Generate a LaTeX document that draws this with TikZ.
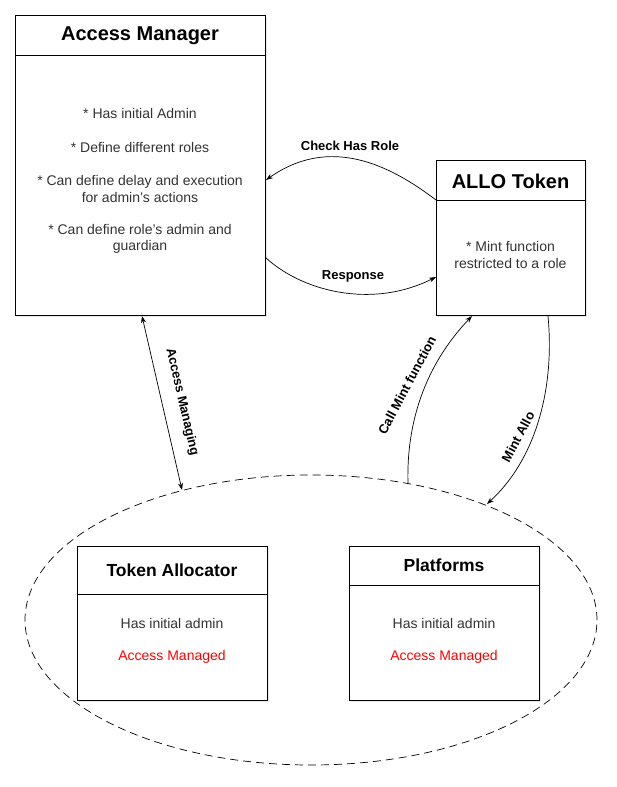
\documentclass[tikz,border=0pt]{standalone}
\usepackage{fontspec}
\setmainfont{Liberation Sans}
\usetikzlibrary{arrows.meta,shapes.geometric,shadows}
\definecolor{bodytxt}{HTML}{333333}
\begin{document}
\begin{tikzpicture}[x=1pt,y=-1pt,
  boxstyle/.style={draw,line width=0.9pt,fill=white,inner sep=0pt,anchor=north west,
     drop shadow={opacity=0.18,shadow xshift=2pt,shadow yshift=-2pt}},
  titletxt/.style={font=\fontsize{20}{24}\selectfont\bfseries},
  subtitletxt/.style={font=\fontsize{17.5}{21}\selectfont\bfseries},
  bodystyle/.style={font=\fontsize{14}{16.5}\selectfont,text=bodytxt,align=center},
  lbl/.style={font=\fontsize{13}{15}\selectfont\bfseries,fill=white,inner sep=1pt},
  conn/.style={line width=0.7pt,-{Stealth[length=7pt,width=5pt]}},
  dconn/.style={line width=0.7pt,{Stealth[length=7pt,width=5pt]}-{Stealth[length=7pt,width=5pt]}}]
\useasboundingbox (0,0) rectangle (616,787);
% ellipse
\node[draw,dash pattern=on 8pt off 5pt,line width=0.7pt,ellipse,minimum width=572pt,minimum height=290pt,inner sep=0pt] (ell) at (311,620) {};
% Access Manager
\node[boxstyle,minimum width=250pt,minimum height=300pt] (am) at (15,15) {};
\draw[line width=0.9pt] (15,55) -- (265,55);
\node[titletxt] (amt) at (140,36) {Access Manager};
\node[bodystyle] (amb) at (140,113) {* Has initial Admin};
\node[bodystyle] (amc) at (140,147) {* Define different roles};
\node[bodystyle] (amd) at (140,189) {* Can define delay and execution\\for admin's actions};
\node[bodystyle] (ame) at (140,239) {* Can define role's admin and\\guardian};
% ALLO Token
\node[boxstyle,minimum width=149pt,minimum height=155pt] (allo) at (436,160) {};
\draw[line width=0.9pt] (436,200) -- (585,200);
\node[titletxt] (allot) at (510.5,181) {ALLO Token};
\node[bodystyle] (allob) at (510.5,255) {* Mint function\\restricted to a role};
% Token Allocator
\node[boxstyle,minimum width=190pt,minimum height=154pt] (ta) at (77,546) {};
\draw[line width=0.9pt] (77,594) -- (267,594);
\node[subtitletxt] (tat) at (172,570) {Token Allocator};
\node[bodystyle] (tab) at (172,623) {Has initial admin};
\node[bodystyle,text=red] (tac) at (172,657) {Access Managed};
% Platforms
\node[boxstyle,minimum width=190pt,minimum height=154pt] (pl) at (349,546) {};
\draw[line width=0.9pt] (349,585) -- (539,585);
\node[subtitletxt] (plt) at (444,565) {Platforms};
\node[bodystyle] (plb) at (444,623) {Has initial admin};
\node[bodystyle,text=red] (plc) at (444,657) {Access Managed};
% connector endpoints
\coordinate (chkS) at (436,200);
\coordinate (chkE) at (266,180);
\coordinate (resS) at (265,257);
\coordinate (resE) at (436,277);
\coordinate (amgA) at (142,316);
\coordinate (amgB) at (182,490);
\coordinate (cmS) at (408,484);
\coordinate (cmE) at (472,316);
\coordinate (maS) at (548,316);
\coordinate (maE) at (487,504);
% connectors
\draw[conn] (chkS) .. controls (390,165) and (330,135) .. (chkE);
\node[lbl] (chkL) at (350,146) {Check Has Role};
\draw[conn] (resS) .. controls (300,290) and (370,310) .. (resE);
\node[lbl] (resL) at (353,276) {Response};
\draw[dconn] (amgA) -- (amgB);
\node[lbl,rotate=-77] (amgL) at (182,402) {Access Managing};
\draw[conn] (cmS) .. controls (406,415) and (430,360) .. (cmE);
\node[lbl,rotate=62] (cmL) at (407,385) {Call Mint function};
\draw[conn] (maS) .. controls (555,390) and (535,460) .. (maE);
\node[lbl,rotate=62] (maL) at (518,437) {Mint Allo};
\end{tikzpicture}
\end{document}
